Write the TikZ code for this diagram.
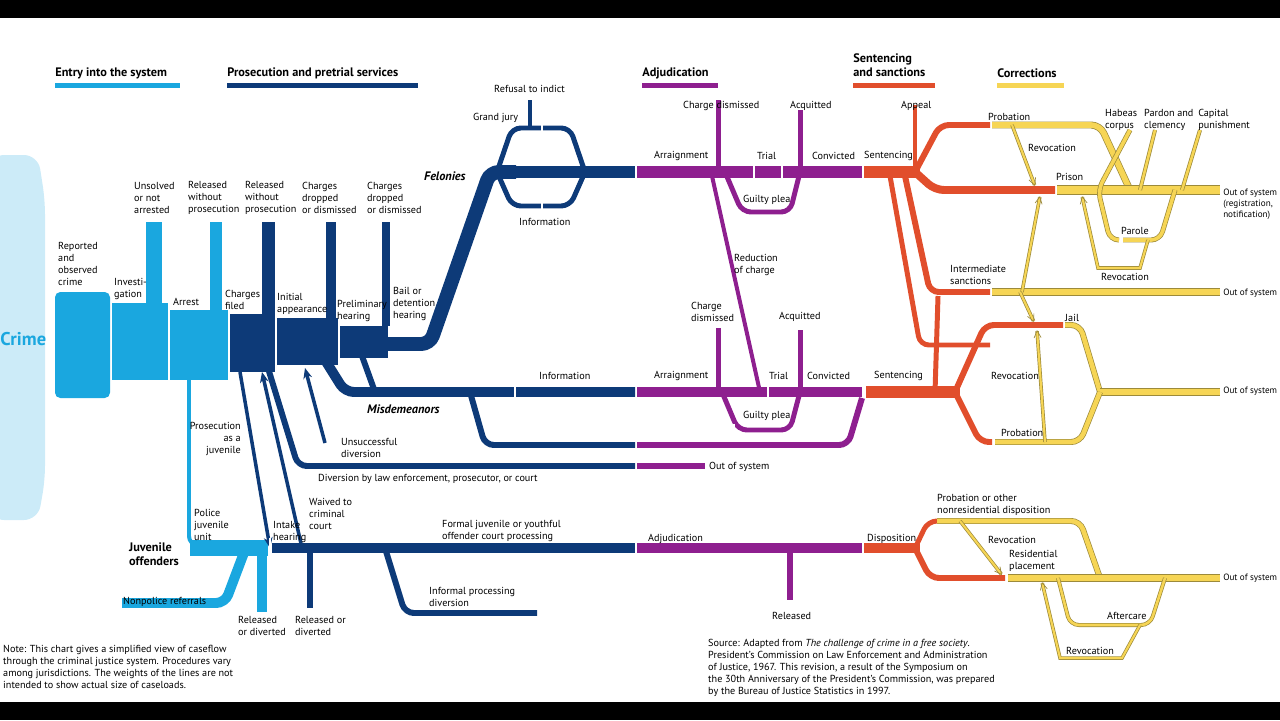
\documentclass[tikz,border=0pt]{standalone}
\usepackage{fontspec}
\setmainfont{PT Sans}
\usetikzlibrary{arrows.meta}
\definecolor{cy}{HTML}{1AA7DF}
\definecolor{pale}{HTML}{CCEBF8}
\definecolor{db}{HTML}{0D3A78}
\definecolor{pu}{HTML}{8E1F8F}
\definecolor{orr}{HTML}{E14E2C}
\definecolor{yel}{HTML}{F6D555}
\definecolor{ydk}{HTML}{9C8A3A}

\begin{document}
\begin{tikzpicture}[x=0.02cm, y=-0.02cm,
    font=\fontsize{5.8}{6.9}\selectfont,
    lbl/.style={inner sep=0.5pt, align=left, anchor=west},
    outlbl/.style={lbl, font=\fontsize{5.2}{6.2}\selectfont},
    hdr/.style={inner sep=0pt, anchor=west, font=\fontsize{7}{7.8}\selectfont\bfseries},
    fl/.style={line width=#1*0.567pt, rounded corners=5pt},
    cyf/.style={fl=#1, draw=cy},
    dbf/.style={fl=#1, draw=db},
    puf/.style={fl=#1, draw=pu},
    orf/.style={fl=#1, draw=orr},
    yef/.style={rounded corners=5pt, draw=ydk, line width=0.4pt, double=yel, double distance=#1*0.567pt-0.8pt},
    rev/.style={draw=ydk, line width=0.4pt, double=yel, double distance=1.2pt, -{Straight Barb[length=4pt,width=4pt]}},
    dba/.style={draw=db, line width=2pt, -{Stealth[length=6pt,width=5pt]}}
]
\useasboundingbox (0,0) rectangle (1280,720);
\fill[black] (0,0) rectangle (1280,18);
\fill[black] (0,702) rectangle (1280,720);

% headers
\node[hdr] (h1) at (55,73) {Entry into the system};
\fill[cy] (55,83) rectangle (180,88);
\node[hdr] (h2) at (227,73) {Prosecution and pretrial services};
\fill[db] (227,83) rectangle (418,88);
\node[hdr] (h3) at (642,73) {Adjudication};
\fill[pu] (642,83) rectangle (718,88);
\node[hdr, align=left] (h4) at (853,65) {Sentencing\\and sanctions};
\fill[orr] (853,83) rectangle (935,88);
\node[hdr] (h5) at (997,73) {Corrections};
\fill[yel] (997,83) rectangle (1064,88);

% entry
\fill[pale, rounded corners=8pt] (-10,155) -- (38,155) -- (45,200) -- (45,480) -- (38,520) -- (-10,520) -- cycle;
\node[anchor=west, inner sep=0pt, text=cy, font=\fontsize{10.5}{12}\selectfont\bfseries] (crime) at (0,339) {Crime};
\fill[cy, rounded corners=3pt] (55,292) rectangle (110,398);
\fill[cy] (112,303) rectangle (168,380);
\fill[cy] (170,310) rectangle (228,380);
\fill[cy] (146,222) rectangle (162,310);
\fill[cy] (210,222) rectangle (222,312);
\draw[cyf=4] (189,380) -- (189,545) -- (262,545);
\fill[cy] (190,540) rectangle (268,556);
\draw[cyf=10] (122,603) -- (225,603) -- (245,550);
\fill[cy] (257,552) rectangle (267,612);

% prosecution
\fill[db] (230,314) rectangle (275,372);
\fill[db] (262,222) rectangle (275,314);
\fill[db] (277,318) rectangle (338,365);
\fill[db] (326,222) rectangle (336,318);
\fill[db] (340,326) rectangle (388,358);
\fill[db] (382,222) rectangle (390,326);
\draw[dbf=14] (388,344) -- (430,344) -- (490,172) -- (516,172);
\draw[dbf=12] (516,172) -- (635,172);
\draw[dbf=5] (497,172) -- (512,128) -- (570,128) -- (585,172);
\draw[dbf=5] (497,172) -- (512,206) -- (570,206) -- (585,172);
\draw[dbf=4] (530,100) -- (530,128);
\draw[white, line width=1.2pt] (542,124) -- (542,132) (542,202) -- (542,212);
\draw[dbf=10] (325,360) -- (345,392) -- (635,392);
\draw[dbf=6] (362,356) -- (375,392);
\draw[white, line width=1.2pt] (515,386) -- (515,398);
\draw[dbf=6] (470,392) -- (485,445) -- (635,445);
\draw[dbf=6] (268,368) -- (298,466) -- (635,466);
\draw[dba] (240,372) -- (270,548);
\draw[dba] (302,548) -- (262,372);
\draw[dba] (325,443) -- (305,368);
\fill[white] (269,538) rectangle (271,558);
\draw[dbf=10] (272,548) -- (635,548);
\draw[dbf=6] (310,552) -- (310,608);
\draw[dbf=6] (385,548) -- (405,613) -- (537,613);

% adjudication felony
\draw[puf=12] (637,172) -- (862,172);
\draw[puf=5] (718,100) -- (718,172);
\draw[puf=5] (800,110) -- (800,172);
\draw[puf=5] (725,172) -- (742,212) -- (790,212) -- (800,172);
\draw[puf=4] (712,176) -- (760,392);
\draw[white, line width=1.2pt] (754,166) -- (754,178) (782,166) -- (782,178);
% adjudication misdemeanor
\draw[puf=10] (637,392) -- (862,392);
\draw[puf=5] (718,328) -- (718,392);
\draw[puf=5] (800,330) -- (800,392);
\draw[puf=5] (722,392) -- (738,430) -- (790,430) -- (800,392);
\draw[white, line width=1.2pt] (768,386) -- (768,398) (734,424) -- (734,436);
\draw[puf=6] (637,445) -- (848,445) -- (862,398);
\draw[puf=6] (637,466) -- (705,466);
% juvenile adjudication
\draw[puf=10] (637,548) -- (862,548);
\draw[puf=6] (790,552) -- (790,600);

% sentencing felony
\draw[orf=12] (864,172) -- (920,172);
\draw[orf=4] (915,105) -- (915,168);
\draw[orf=6] (915,172) -- (940,125) -- (990,125);
\draw[orf=8] (915,172) -- (935,190) -- (1055,190);
\draw[orf=6] (905,176) -- (930,292) -- (990,292);
\draw[orf=5] (890,176) -- (920,345) -- (990,345);
% sentencing misdemeanor
\draw[orf=12] (866,392) -- (960,392);
\draw[orf=5] (935,392) -- (938,296);
\draw[orf=6] (955,392) -- (985,325) -- (1063,325);
\draw[orf=6] (955,392) -- (980,442) -- (992,442);
% juvenile disposition
\draw[orf=10] (864,548) -- (920,548);
\draw[orf=5] (915,548) -- (928,521) -- (935,521);
\draw[orf=6] (915,548) -- (930,578) -- (1005,578);

% corrections
\draw[yef=7] (992,125) -- (1100,125) -- (1130,190);
\draw[yef=10] (1057,190) -- (1220,190);
\draw[yef=5] (1130,130) -- (1098,190) -- (1110,240) -- (1118,240);
\draw[yef=5] (1123,240) -- (1160,240) -- (1175,190);
\draw[yef=4] (1155,130) -- (1140,190);
\draw[yef=4] (1200,130) -- (1182,190);
\draw[yef=8] (992,292) -- (1220,292);
\draw[yef=6] (1065,325) -- (1080,325) -- (1100,392);
\draw[yef=8] (1100,392) -- (1220,392);
\draw[yef=6] (995,442) -- (1080,442) -- (1100,392);
\draw[yef=6] (937,521) -- (1080,521) -- (1100,578);
\draw[yef=8] (1008,578) -- (1220,578);
\draw[yef=4] (1058,578) -- (1070,625) -- (1150,625) -- (1165,578);
% revocation arrows
\draw[rev] (1012,125) -- (1035,186);
\draw[rev] (1022,292) -- (1040,196);
\draw[rev] (1020,292) -- (1034,322);
\draw[rev] (1045,442) -- (1037,330);
\draw[rev] (1148,240) -- (1140,268) -- (1098,268) -- (1082,196);
\draw[rev] (960,521) -- (1002,575);
\draw[rev] (1140,625) -- (1122,658) -- (1060,658) -- (1042,582);

% labels entry and prosecution
\node[lbl] (l1) at (57,264) {Reported\\and\\observed\\crime};
\node[lbl] (l2) at (113,289) {Investi-\\gation};
\node[lbl] (l3) at (172,302) {Arrest};
\node[lbl] (l4) at (133,198) {Unsolved\\or not\\arrested};
\node[lbl] (l5) at (187,198) {Released\\without\\prosecution};
\node[lbl] (l6) at (244,198) {Released\\without\\prosecution};
\node[lbl] (l7) at (301,198) {Charges\\dropped\\or dismissed};
\node[lbl] (l8) at (366,198) {Charges\\dropped\\or dismissed};
\node[lbl] (l9) at (224,300) {Charges\\filed};
\node[lbl] (l10) at (276,304) {Initial\\appearance};
\node[lbl] (l11) at (336,311) {Preliminary\\hearing};
\node[lbl] (l12) at (392,304) {Bail or\\detention\\hearing};
\node[lbl, font=\fontsize{7}{8}\selectfont\bfseries\itshape] (fel) at (423,176) {Felonies};
\node[lbl, font=\fontsize{7}{8}\selectfont\bfseries\itshape] (mis) at (366,409) {Misdemeanors};
\node[lbl] (l13) at (472,118) {Grand jury};
\node[lbl] (l14) at (493,89) {Refusal to indict};
\node[lbl] (l15) at (518,222) {Information};
\node[lbl] (l16) at (538,376) {Information};
\node[lbl] (l17) at (340,448) {Unsuccessful\\diversion};
\node[lbl] (l18) at (317,479) {Diversion by law enforcement, prosecutor, or court};
\node[lbl] (l19) at (708,467) {Out of system};
\node[lbl, anchor=east, align=right] (l20) at (242,439) {Prosecution\\as a\\juvenile};
\node[lbl] (l21) at (193,525) {Police\\juvenile\\unit};
\node[lbl, font=\fontsize{7}{8}\selectfont\bfseries] (juv) at (128,554) {Juvenile\\offenders};
\node[lbl] (l22) at (122,602) {Nonpolice referrals};
\node[lbl] (l23) at (237,626) {Released\\or diverted};
\node[lbl] (l24) at (294,626) {Released or\\diverted};
\node[lbl] (l25) at (308,514) {Waived to\\criminal\\court};
\node[lbl] (l26) at (272,532) {Intake\\hearing};
\node[lbl] (l27) at (441,531) {Formal juvenile or youthful\\offender court processing};
\node[lbl] (l28) at (428,597) {Informal processing\\diversion};
% labels adjudication
\node[lbl] (a1) at (647,539) {Adjudication};
\node[lbl] (a2) at (771,616) {Released};
\node[lbl] (a3) at (653,156) {Arraignment};
\node[lbl] (a4) at (756,156) {Trial};
\node[lbl] (a5) at (811,156) {Convicted};
\node[lbl] (a6) at (682,106) {Charge dismissed};
\node[lbl] (a7) at (789,106) {Acquitted};
\node[lbl] (a8) at (742,200) {Guilty plea};
\node[lbl] (a9) at (733,265) {Reduction\\of charge};
\node[lbl] (a10) at (690,312) {Charge\\dismissed};
\node[lbl] (a11) at (778,317) {Acquitted};
\node[lbl] (a12) at (653,376) {Arraignment};
\node[lbl] (a13) at (768,376) {Trial};
\node[lbl] (a14) at (806,376) {Convicted};
\node[lbl] (a15) at (742,416) {Guilty plea};
% labels sentencing and corrections
\node[lbl] (s1) at (863,156) {Sentencing};
\node[lbl] (s2) at (873,376) {Sentencing};
\node[lbl] (s3) at (900,106) {Appeal};
\node[lbl] (s4) at (866,539) {Disposition};
\node[lbl] (c1) at (987,117) {Probation};
\node[lbl] (c2) at (1027,148) {Revocation};
\node[lbl] (c3) at (1055,177) {Prison};
\node[lbl] (c4) at (1104,120) {Habeas\\corpus};
\node[lbl] (c5) at (1143,120) {Pardon and\\clemency};
\node[lbl] (c6) at (1197,120) {Capital\\punishment};
\node[outlbl] (c7) at (1222,204) {Out of system\\(registration,\\notification)};
\node[lbl] (c8) at (1120,231) {Parole};
\node[lbl] (c9) at (1100,277) {Revocation};
\node[lbl] (c10) at (949,275) {Intermediate\\sanctions};
\node[outlbl] (c11) at (1222,293) {Out of system};
\node[lbl] (c12) at (1064,318) {Jail};
\node[lbl] (c13) at (990,376) {Revocation};
\node[outlbl] (c14) at (1222,391) {Out of system};
\node[lbl] (c15) at (1000,433) {Probation};
\node[lbl] (c16) at (936,505) {Probation or other\\nonresidential disposition};
\node[lbl] (c17) at (987,540) {Revocation};
\node[lbl] (c18) at (1008,561) {Residential\\placement};
\node[outlbl] (c19) at (1222,578) {Out of system};
\node[lbl] (c20) at (1106,616) {Aftercare};
\node[lbl] (c21) at (1065,651) {Revocation};
% notes
\node[lbl] (note) at (2,667) {Note: This chart gives a simplified view of caseflow\\through the criminal justice system. Procedures vary\\among jurisdictions. The weights of the lines are not\\intended to show actual size of caseloads.};
\node[lbl] (src) at (707,668) {Source: Adapted from \textit{The challenge of crime in a free society}.\\President's Commission on Law Enforcement and Administration\\of Justice, 1967. This revision, a result of the Symposium on\\the 30th Anniversary of the President's Commission, was prepared\\by the Bureau of Justice Statistics in 1997.};
\end{tikzpicture}
\end{document}
